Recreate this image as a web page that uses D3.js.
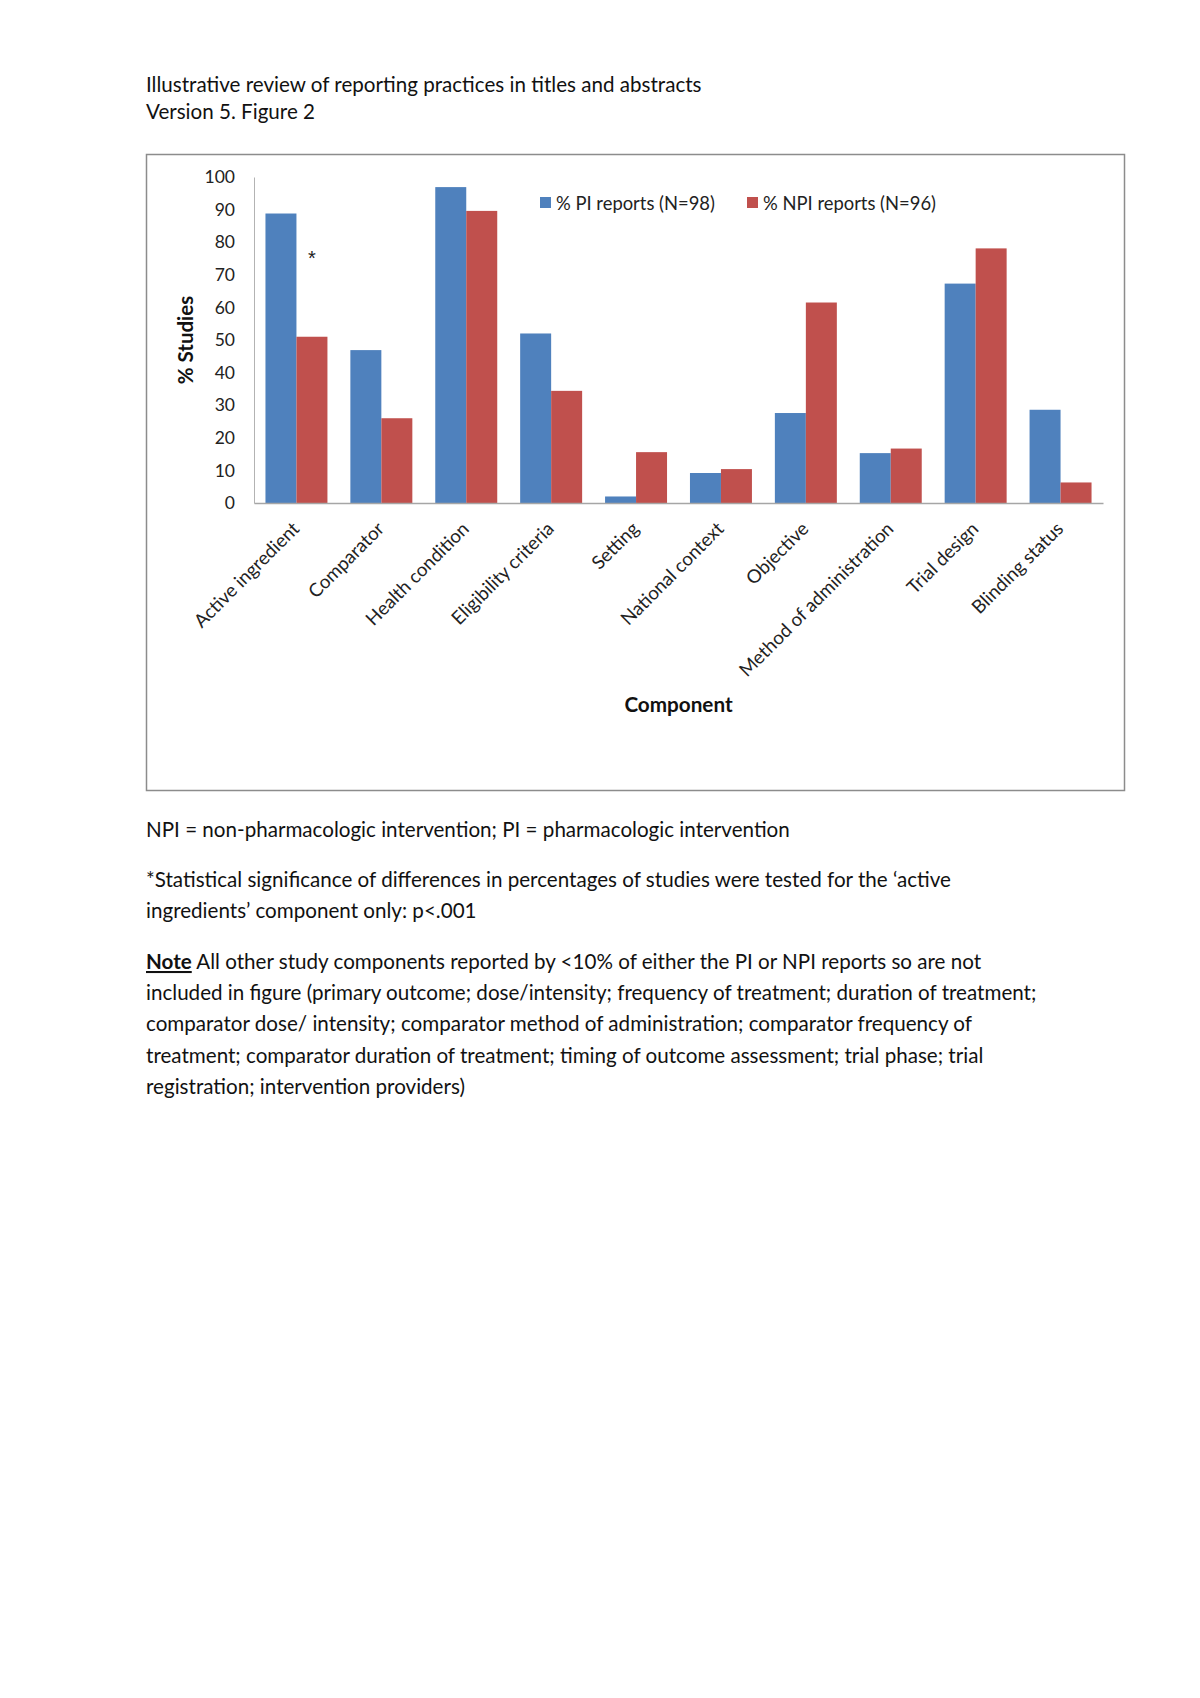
<!DOCTYPE html>
<html>
<head>
<meta charset="utf-8">
<script src="https://cdn.jsdelivr.net/npm/d3@7"></script>
<style>
  body { margin: 0; background: #fff; }
  svg { display: block; font-family: Lato, "Open Sans", sans-serif; }
</style>
</head>
<body>
<div id="page"></div>
<script>
// chart data
var components = ['Active ingredient', 'Comparator', 'Health condition', 'Eligibility criteria',
    'Setting', 'National context', 'Objective', 'Method of administration', 'Trial design', 'Blinding status'];
var seriesNames = ['% PI reports (N=98)', '% NPI reports (N=96)'];
var piValues = [88.8, 46.9, 96.9, 52.0, 2.0, 9.2, 27.6, 15.3, 67.3, 28.6];
var npiValues = [51.0, 26.0, 89.6, 34.4, 15.6, 10.4, 61.5, 16.7, 78.1, 6.3];
var yTicks = [0, 10, 20, 30, 40, 50, 60, 70, 80, 90, 100];
var colors = ['#4f81bd', '#c0504d'];

var titleLines = ['Illustrative review of reporting practices in titles and abstracts', 'Version 5. Figure 2'];
var noteLines = [
    'included in figure (primary outcome; dose/intensity; frequency of treatment; duration of treatment;',
    'comparator dose/ intensity; comparator method of administration; comparator frequency of',
    'treatment; comparator duration of treatment; timing of outcome assessment; trial phase; trial',
    'registration; intervention providers)'
];

var width = 1200, height = 1698;
var bodySize = '20.6px';
var svg = d3.select('#page').append('svg')
    .attr('width', width)
    .attr('height', height);

// page heading
svg.selectAll('.title')
    .data(titleLines)
    .enter().append('text')
    .attr('class', 'title')
    .attr('x', 146)
    .attr('y', function(d, i) { return 92 + i * 27; })
    .style('font-size', bodySize)
    .style('fill', '#111')
    .text(function(d) { return d; });

// chart frame
svg.append('rect')
    .attr('x', 146.5).attr('y', 154.5)
    .attr('width', 978).attr('height', 636)
    .style('fill', 'none')
    .style('stroke', '#8c8c8c')
    .style('stroke-width', 1.5);

var plot = {left: 254, right: 1103, top: 177, bottom: 503};

var x0 = d3.scaleBand()
    .domain(components)
    .range([plot.left, plot.right])
    .paddingInner(0.27)
    .paddingOuter(0.135);

var x1 = d3.scaleBand()
    .domain([0, 1])
    .range([0, x0.bandwidth()]);

var y = d3.scaleLinear()
    .domain([0, 100])
    .range([plot.bottom, plot.top]);

// y axis
var yAxis = svg.append('g')
    .attr('transform', 'translate(' + plot.left + ',0)')
    .call(d3.axisLeft(y).tickValues(yTicks).tickSize(0).tickPadding(19));
yAxis.select('.domain').style('stroke', '#b3b3b3');
yAxis.selectAll('text')
    .style('font-family', 'Lato, sans-serif')
    .style('font-size', '17.5px')
    .style('fill', '#222');

svg.append('text')
    .attr('transform', 'translate(193,' + ((plot.top + plot.bottom) / 2) + ') rotate(-90)')
    .attr('text-anchor', 'middle')
    .style('font-size', '20.5px')
    .style('font-weight', 'bold')
    .style('fill', '#111')
    .text('% Studies');

// bars
var rows = components.map(function(c, i) {
    return {name: c, values: [piValues[i], npiValues[i]]};
});

var groups = svg.selectAll('.group')
    .data(rows)
    .enter().append('g')
    .attr('class', 'group')
    .attr('transform', function(d) { return 'translate(' + x0(d.name) + ',0)'; });

groups.selectAll('rect')
    .data(function(d) { return d.values; })
    .enter().append('rect')
    .attr('x', function(d, i) { return x1(i); })
    .attr('y', function(d) { return y(d); })
    .attr('width', x1.bandwidth())
    .attr('height', function(d) { return y(0) - y(d); })
    .style('fill', function(d, i) { return colors[i]; });

// x axis
var xAxis = svg.append('g')
    .attr('transform', 'translate(0,' + plot.bottom + ')')
    .call(d3.axisBottom(x0).tickSize(0).tickSizeOuter(0));
xAxis.select('.domain').style('stroke', '#a6a6a6').style('stroke-width', 1.3);
xAxis.selectAll('text')
    .style('font-family', 'Lato, sans-serif')
    .style('font-size', '18.7px')
    .style('fill', '#222')
    .attr('text-anchor', 'end')
    .attr('dy', null)
    .attr('y', 0)
    .attr('transform', 'translate(4,27) rotate(-45)');

svg.append('text')
    .attr('x', (plot.left + plot.right) / 2)
    .attr('y', 712)
    .attr('text-anchor', 'middle')
    .style('font-size', '20.7px')
    .style('font-weight', 'bold')
    .style('fill', '#111')
    .text('Component');

// significance marker
svg.append('text')
    .attr('x', x0(components[0]) + x1(1) + x1.bandwidth() / 2)
    .attr('y', y(73))
    .attr('text-anchor', 'middle')
    .style('font-family', '"Liberation Sans", sans-serif')
    .style('font-size', '20px')
    .style('fill', '#222')
    .text('*');

// legend
var legendX = [540, 747];
var legend = svg.selectAll('.legend')
    .data(seriesNames)
    .enter().append('g')
    .attr('class', 'legend')
    .attr('transform', function(d, i) { return 'translate(' + legendX[i] + ',197)'; });

legend.append('rect')
    .attr('width', 11)
    .attr('height', 11)
    .style('fill', function(d, i) { return colors[i]; });

legend.append('text')
    .attr('x', 16)
    .attr('y', 13)
    .style('font-size', '18.4px')
    .style('fill', '#222')
    .text(function(d) { return d; });

// footnotes
svg.append('text')
    .attr('x', 146).attr('y', 837)
    .style('font-size', bodySize).style('fill', '#111')
    .text('NPI = non-pharmacologic intervention; PI = pharmacologic intervention');

svg.append('text')
    .attr('x', 146).attr('y', 887)
    .style('font-size', bodySize).style('fill', '#111')
    .text('*Statistical significance of differences in percentages of studies were tested for the \u2018active');

svg.append('text')
    .attr('x', 146).attr('y', 918)
    .style('font-size', bodySize).style('fill', '#111')
    .text('ingredients\u2019 component only: p<.001');

var noteFirst = svg.append('text')
    .attr('x', 146).attr('y', 969)
    .style('font-size', bodySize).style('fill', '#111');
noteFirst.append('tspan')
    .style('font-weight', 'bold')
    .style('text-decoration', 'underline')
    .text('Note');
noteFirst.append('tspan')
    .text(' All other study components reported by <10% of either the PI or NPI reports so are not');

svg.selectAll('.note')
    .data(noteLines)
    .enter().append('text')
    .attr('class', 'note')
    .attr('x', 146)
    .attr('y', function(d, i) { return 1000 + i * 31.3; })
    .style('font-size', bodySize)
    .style('fill', '#111')
    .text(function(d) { return d; });
</script>
</body>
</html>
